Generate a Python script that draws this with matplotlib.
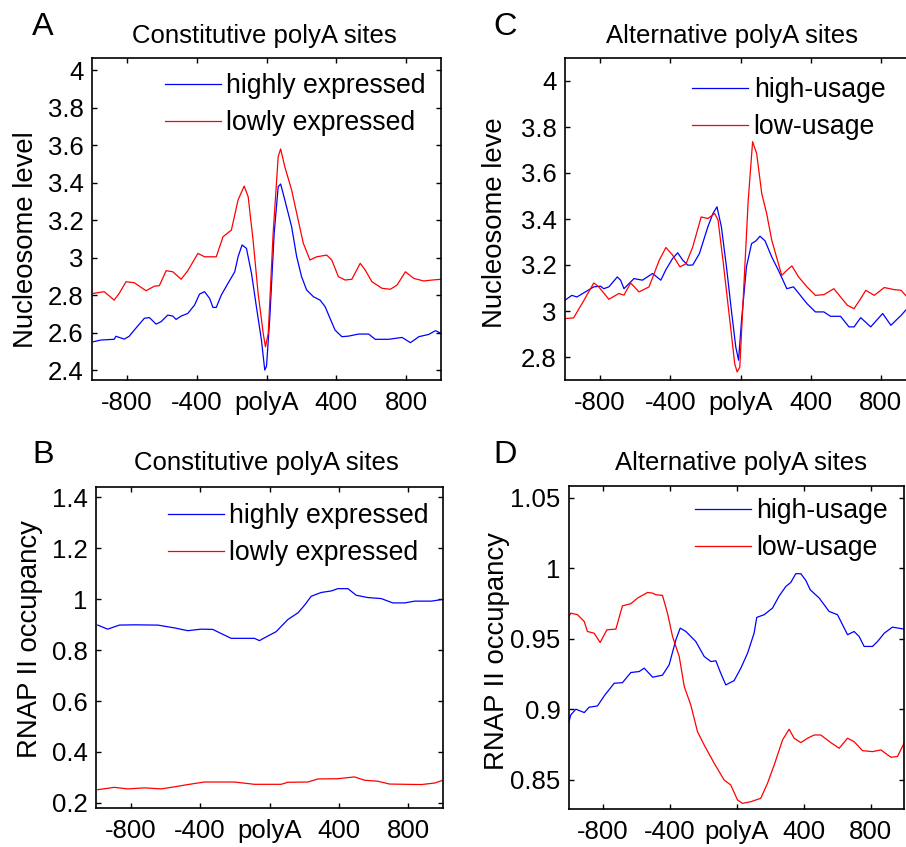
import matplotlib
matplotlib.use("Agg")
import matplotlib.pyplot as plt

plt.rcParams['font.family'] = ['Liberation Sans', 'DejaVu Sans']

# ---------------- data ----------------
xticks = [-800, -400, 0, 400, 800]
xticklabels = ['-800', '-400', 'polyA', '400', '800']

# Panel A: nucleosome level, constitutive polyA sites
a_high_x = [-992, -950, -873, -863, -815, -787, -758, -700, -671, -633, -604, -566, -537, -518, -489,
            -451, -412, -384, -355, -326, -307, -288, -259, -221, -182, -163, -140, -115, -86, -58,
            -29, -10, 0, 19, 44, 67, 81, 105, 144, 173, 201, 230, 269, 307, 336, 364, 393, 432,
            470, 528, 585, 623, 700, 777, 825, 873, 930, 968, 1000]
a_high_y = [2.551, 2.56, 2.564, 2.58, 2.565, 2.58, 2.613, 2.676, 2.68, 2.645, 2.658, 2.693, 2.688, 2.67, 2.688,
            2.702, 2.747, 2.805, 2.818, 2.782, 2.734, 2.734, 2.8, 2.862, 2.924, 3.004, 3.067, 3.049, 2.916, 2.738,
            2.56, 2.4, 2.42, 2.68, 3.129, 3.378, 3.392, 3.307, 3.164, 3.004, 2.898, 2.827, 2.791, 2.773, 2.738,
            2.676, 2.613, 2.578, 2.581, 2.592, 2.592, 2.564, 2.564, 2.574, 2.546, 2.578, 2.59, 2.61, 2.596]

a_low_x = [-992, -930, -873, -844, -805, -758, -690, -643, -614, -575, -537, -489, -451, -393, -355,
           -288, -249, -201, -163, -128, -105, -77, -48, -19, -6, 10, 38, 67, 81, 105, 144, 173,
           211, 249, 288, 345, 374, 412, 451, 489, 537, 566, 604, 662, 710, 748, 796, 844, 901, 949, 1000]
a_low_y = [2.809, 2.818, 2.773, 2.809, 2.871, 2.866, 2.823, 2.847, 2.85, 2.93, 2.924, 2.884, 2.93, 3.022, 3.004,
           3.004, 3.111, 3.147, 3.307, 3.381, 3.324, 3.093, 2.809, 2.596, 2.524, 2.596, 3.129, 3.538, 3.579, 3.484,
           3.36, 3.236, 3.076, 2.987, 3.004, 3.013, 2.987, 2.898, 2.88, 2.884, 2.969, 2.933, 2.871, 2.836, 2.831,
           2.853, 2.924, 2.889, 2.875, 2.88, 2.884]

# Panel C: nucleosome level, alternative polyA sites
c_high_x = [-1000, -961, -932, -884, -836, -798, -779, -750, -702, -683, -664, -607, -559, -501, -454,
            -425, -387, -358, -329, -300, -272, -234, -186, -157, -134, -109, -80, -52, -27, -11, 6,
            34, 63, 88, 111, 140, 178, 216, 264, 302, 341, 379, 427, 475, 513, 570, 618, 647, 685,
            742, 810, 857, 915, 949, 1000]
c_high_y = [3.047, 3.068, 3.061, 3.083, 3.105, 3.108, 3.097, 3.105, 3.148, 3.134, 3.097, 3.141, 3.134, 3.163, 3.134,
            3.18, 3.228, 3.253, 3.221, 3.199, 3.2, 3.25, 3.366, 3.424, 3.453, 3.366, 3.192, 3.003, 2.844, 2.786, 2.96,
            3.192, 3.293, 3.305, 3.325, 3.305, 3.235, 3.177, 3.097, 3.105, 3.068, 3.032, 2.996, 2.996, 2.977, 2.977,
            2.931, 2.931, 2.971, 2.931, 2.989, 2.938, 2.981, 3.01, 3.02]

c_low_x = [-1000, -951, -903, -836, -808, -750, -693, -664, -626, -578, -521, -463, -425, -387, -345,
           -310, -272, -224, -186, -147, -128, -100, -61, -33, -19, -4, 15, 44, 69, 92, 121, 149,
           178, 235, 264, 293, 331, 379, 427, 475, 532, 570, 609, 647, 685, 714, 762, 819, 876, 915, 949, 1000]
c_low_y = [2.967, 2.97, 3.032, 3.122, 3.105, 3.051, 3.076, 3.069, 3.122, 3.083, 3.105, 3.221, 3.276, 3.243, 3.192,
           3.206, 3.279, 3.409, 3.402, 3.424, 3.395, 3.221, 2.96, 2.771, 2.735, 2.756, 3.047, 3.482, 3.736, 3.685,
           3.511, 3.424, 3.308, 3.155, 3.177, 3.196, 3.148, 3.105, 3.068, 3.071, 3.097, 3.061, 3.025, 3.01, 3.054,
           3.09, 3.068, 3.102, 3.093, 3.09, 3.061, 3.05]

# Panel B: RNAP II occupancy, constitutive polyA sites
b_high_x = [-990, -933, -865, -779, -644, -548, -471, -394, -327, -279, -221, -163, -87, -58, -10, 38,
            106, 164, 202, 240, 298, 356, 394, 452, 500, 567, 644, 711, 779, 837, 933, 1000]
b_high_y = [0.898, 0.882, 0.898, 0.899, 0.898, 0.887, 0.876, 0.882, 0.881, 0.865, 0.846, 0.846, 0.846, 0.837, 0.855,
            0.872, 0.92, 0.946, 0.976, 1.011, 1.026, 1.032, 1.041, 1.041, 1.015, 1.006, 1.002, 0.985, 0.985, 0.992,
            0.992, 0.999]

b_low_x = [-990, -894, -817, -721, -625, -548, -471, -375, -202, -87, 67, 106, 221, 279, 394, 490, 548,
           625, 692, 875, 952, 1000]
b_low_y = [0.252, 0.261, 0.255, 0.259, 0.255, 0.263, 0.272, 0.282, 0.282, 0.273, 0.273, 0.281, 0.282, 0.294,
           0.295, 0.302, 0.289, 0.285, 0.274, 0.272, 0.278, 0.289]

# Panel D: RNAP II occupancy, alternative polyA sites
d_high_x = [-1000, -989, -959, -909, -880, -830, -790, -730, -681, -631, -581, -551, -501, -442, -402,
            -362, -336, -302, -243, -193, -153, -123, -94, -64, -14, 26, 66, 105, 121, 165, 215, 255,
            295, 324, 354, 384, 414, 440, 494, 553, 603, 663, 702, 732, 762, 812, 842, 882, 931, 1000]
d_high_y = [0.8914, 0.8962, 0.9002, 0.8978, 0.9016, 0.9025, 0.9096, 0.9186, 0.919, 0.9262, 0.9269, 0.9293, 0.9229,
            0.9243, 0.9317, 0.9494, 0.9577, 0.9553, 0.9482, 0.9376, 0.934, 0.9345, 0.9257, 0.9174, 0.9205, 0.9293,
            0.9399, 0.9541, 0.9653, 0.9672, 0.9719, 0.9806, 0.9873, 0.9901, 0.9963, 0.9963, 0.9915, 0.9849, 0.979,
            0.9695, 0.9672, 0.953, 0.9553, 0.9518, 0.9447, 0.9447, 0.9482, 0.9541, 0.9584, 0.957]

d_low_x = [-1000, -989, -949, -909, -890, -850, -814, -774, -720, -681, -631, -591, -531, -501, -482,
           -442, -412, -382, -342, -312, -273, -233, -193, -133, -74, -34, 6, 36, 86, 145, 185, 225,
           275, 314, 344, 384, 424, 464, 503, 563, 613, 663, 702, 752, 812, 862, 922, 961, 1000]
d_low_y = [0.966, 0.9683, 0.9672, 0.9624, 0.9553, 0.9541, 0.9475, 0.9565, 0.957, 0.9735, 0.975, 0.979, 0.983,
           0.9825, 0.9814, 0.9809, 0.9683, 0.9518, 0.9376, 0.9163, 0.9032, 0.8843, 0.8748, 0.8618, 0.85, 0.8464,
           0.8358, 0.8334, 0.8346, 0.837, 0.8476, 0.8606, 0.8784, 0.886, 0.8796, 0.8765, 0.8796, 0.8819, 0.8819,
           0.8765, 0.8725, 0.8796, 0.8772, 0.8708, 0.8701, 0.8713, 0.8661, 0.8666, 0.876]

a_yticks = [2.4, 2.6, 2.8, 3.0, 3.2, 3.4, 3.6, 3.8, 4.0]
a_yticklabels = ['2.4', '2.6', '2.8', '3', '3.2', '3.4', '3.6', '3.8', '4']
c_yticks = [2.8, 3.0, 3.2, 3.4, 3.6, 3.8, 4.0]
c_yticklabels = ['2.8', '3', '3.2', '3.4', '3.6', '3.8', '4']
b_yticks = [0.2, 0.4, 0.6, 0.8, 1.0, 1.2, 1.4]
b_yticklabels = ['0.2', '0.4', '0.6', '0.8', '1', '1.2', '1.4']
d_yticks = [0.85, 0.9, 0.95, 1.0, 1.05]
d_yticklabels = ['0.85', '0.9', '0.95', '1', '1.05']

legend_const = ['highly expressed', 'lowly expressed']
legend_alt = ['high-usage', 'low-usage']

# ---------------- figure ----------------
W, H = 906, 847
fig = plt.figure(figsize=(W / 100, H / 100), dpi=100)


def px_axes(x0, x1, y0, y1):
    return fig.add_axes([x0 / W, 1 - y1 / H, (x1 - x0) / W, (y1 - y0) / H])


TICK_FS = 18.5
LAB_FS = 19.8
LEG_FS = 19.2
TITLE_FS = 18.5
LET_FS = 23.4


def style(ax, ylim, yticks, yticklabels, ylabel, ylab_xy, title, title_xy, letter, letter_px,
          series, labels, leg_xy):
    (hx, hy), (lx, ly) = series
    ax.plot(hx, hy, color=(0, 0, 1), lw=0.9, label=labels[0])
    ax.plot(lx, ly, color=(1, 0, 0), lw=0.9, label=labels[1])
    ax.set_xlim(-1000, 1000)
    ax.set_ylim(*ylim)
    ax.set_xticks(xticks)
    ax.set_xticklabels(xticklabels)
    ax.set_yticks(yticks)
    ax.set_yticklabels(yticklabels)
    ax.tick_params(direction='in', top=True, right=True, length=3.5, width=1.0,
                   labelsize=TICK_FS, pad=6)
    ax.tick_params(axis='x', pad=8)
    for s in ax.spines.values():
        s.set_linewidth(1.2)
    ax.set_ylabel(ylabel, fontsize=LAB_FS, va='center')
    ax.yaxis.set_label_coords(*ylab_xy)
    ax.text(title_xy[0], title_xy[1], title, transform=ax.transAxes, ha='center',
            va='baseline', fontsize=TITLE_FS)
    fig.text(letter_px[0] / W, 1 - letter_px[1] / H, letter, ha='left', va='baseline',
             fontsize=LET_FS)
    ax.legend(loc='upper left', bbox_to_anchor=leg_xy, frameon=False, fontsize=LEG_FS,
              handlelength=2.1, handletextpad=0.2, labelspacing=0.42, borderpad=0,
              borderaxespad=0)


# Panel A
axA = px_axes(92, 441, 58, 380)
style(axA, (2.347, 4.064), a_yticks, a_yticklabels, 'Nucleosome level', (-0.19, 0.435),
      'Constitutive polyA sites', (0.495, 1.0466), 'A', (32, 35),
      [(a_high_x, a_high_y), (a_low_x, a_low_y)], legend_const, (0.209, 0.9535))

# Panel C
axC = px_axes(565, 916, 58, 380)
style(axC, (2.7, 4.1), c_yticks, c_yticklabels, 'Nucleosome leve', (-0.20, 0.49),
      'Alternative polyA sites', (0.477, 1.0466), 'C', (493, 35),
      [(c_high_x, c_high_y), (c_low_x, c_low_y)], legend_alt, (0.363, 0.9406))

# Panel B
axB = px_axes(96, 443, 487, 808)
style(axB, (0.18, 1.44), b_yticks, b_yticklabels, 'RNAP II occupancy', (-0.19, 0.525),
      'Constitutive polyA sites', (0.49, 1.053), 'B', (32, 463),
      [(b_high_x, b_high_y), (b_low_x, b_low_y)], legend_const, (0.2075, 0.9505))

# Panel D
axD = px_axes(569, 904, 486, 809)
style(axD, (0.8294, 1.0585), d_yticks, d_yticklabels, 'RNAP II occupancy', (-0.215, 0.49),
      'Alternative polyA sites', (0.513, 1.05), 'D', (493, 463),
      [(d_high_x, d_high_y), (d_low_x, d_low_y)], legend_alt, (0.376, 0.9626))

fig.savefig('out.png', dpi=100)
